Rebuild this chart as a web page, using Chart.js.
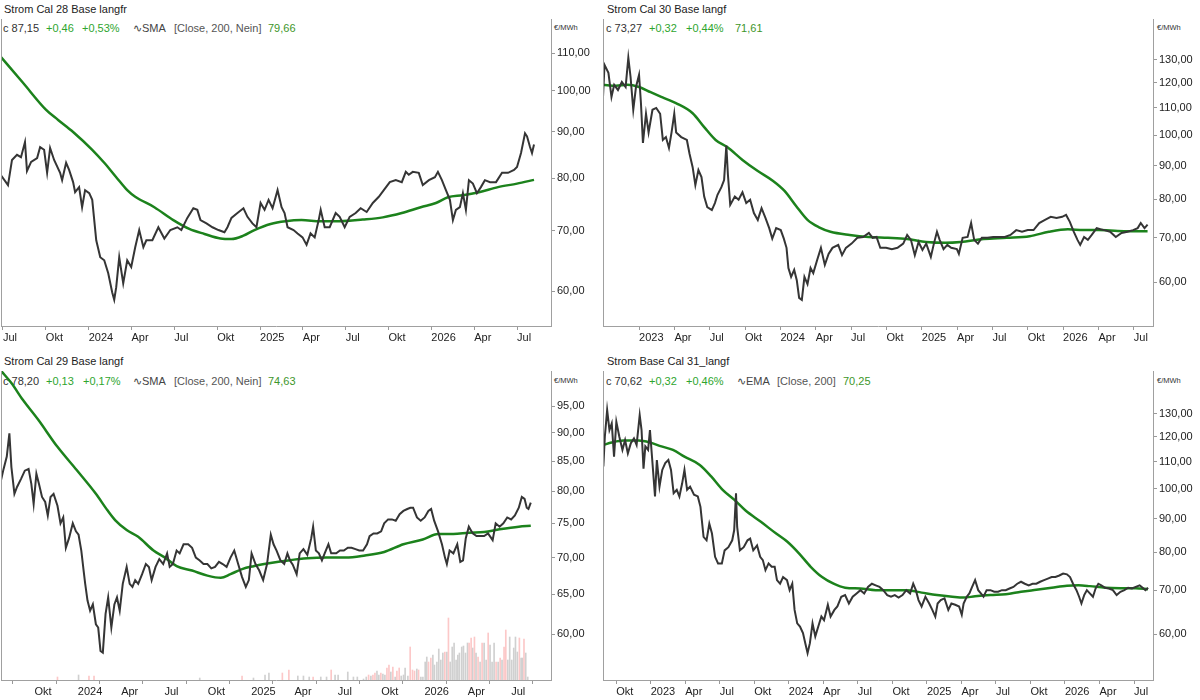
<!DOCTYPE html>
<html>
<head>
<meta charset="utf-8">
<script src="https://cdn.jsdelivr.net/npm/chart.js@4.4.1/dist/chart.umd.min.js"></script>
<style>
html, body { margin: 0; padding: 0; background: #fff; }
body { width: 1200px; height: 700px; position: relative; overflow: hidden;
  font-family: "Liberation Sans", Arial, sans-serif; font-size: 11px; color: #222; }
.t { position: absolute; white-space: nowrap; line-height: 14px; height: 14px; }
.unit { position: absolute; font-size: 7.5px; line-height: 10px; color: #333; }
.n { color: #333; } .g { color: #2ea52e; } .v { color: #3d962a; } .p { color: #555; } .i { color: #444; }
canvas { position: absolute; }
</style>
</head>
<body>
<!-- top left -->
<div class="t" style="left:4px;top:2px">Strom Cal 28 Base langfr</div>
<div class="t n" style="left:3px;top:21px">c 87,15</div>
<div class="t g" style="left:46px;top:21px">+0,46</div>
<div class="t g" style="left:82px;top:21px">+0,53%</div>
<div class="t i" style="left:133px;top:21px">∿SMA</div>
<div class="t p" style="left:174px;top:21px">[Close, 200, Nein]</div>
<div class="t v" style="left:268px;top:21px">79,66</div>
<div class="unit" style="left:554px;top:23px">€/MWh</div>
<canvas id="cal28" width="598" height="327" style="left:1px;top:19px"></canvas>

<!-- top right -->
<div class="t" style="left:607px;top:2px">Strom Cal 30 Base langf</div>
<div class="t n" style="left:606px;top:21px">c 73,27</div>
<div class="t g" style="left:649px;top:21px">+0,32</div>
<div class="t g" style="left:686px;top:21px">+0,44%</div>
<div class="t v" style="left:735px;top:21px">71,61</div>
<div class="unit" style="left:1157px;top:23px">€/MWh</div>
<canvas id="cal30" width="597" height="327" style="left:603px;top:19px"></canvas>

<!-- bottom left -->
<div class="t" style="left:4px;top:354px">Strom Cal 29 Base langf</div>
<div class="t n" style="left:3px;top:374px">c 78,20</div>
<div class="t g" style="left:46px;top:374px">+0,13</div>
<div class="t g" style="left:83px;top:374px">+0,17%</div>
<div class="t i" style="left:133px;top:374px">∿SMA</div>
<div class="t p" style="left:174px;top:374px">[Close, 200, Nein]</div>
<div class="t v" style="left:268px;top:374px">74,63</div>
<div class="unit" style="left:554px;top:376px">€/MWh</div>
<canvas id="cal29" width="598" height="329" style="left:1px;top:371px"></canvas>

<!-- bottom right -->
<div class="t" style="left:607px;top:354px">Strom Base Cal 31_langf</div>
<div class="t n" style="left:606px;top:374px">c 70,62</div>
<div class="t g" style="left:649px;top:374px">+0,32</div>
<div class="t g" style="left:686px;top:374px">+0,46%</div>
<div class="t i" style="left:737px;top:374px">∿EMA</div>
<div class="t p" style="left:777px;top:374px">[Close, 200]</div>
<div class="t v" style="left:843px;top:374px">70,25</div>
<div class="unit" style="left:1157px;top:376px">€/MWh</div>
<canvas id="cal31" width="597" height="329" style="left:603px;top:371px"></canvas>

<script>
// time values are months counted from Jan 2023 (0 = Jan 2023, 12 = Jan 2024 ...)

// Strom Cal 28 Base
const cal28Months = [5.86, 6.35, 6.63, 6.98, 7.26, 7.54, 7.68, 7.97, 8.39, 8.6,
  8.88, 9.09, 9.3, 9.58, 10.0, 10.14, 10.42, 10.63, 10.91, 11.05,
  11.33, 11.54, 11.75, 12.04, 12.25, 12.53, 12.81, 13.09, 13.37, 13.65,
  13.79, 13.93, 14.14, 14.42, 14.7, 14.98, 15.26, 15.54, 15.83, 16.04,
  16.46, 16.88, 17.3, 17.72, 18.21, 18.49, 18.91, 19.33, 19.61, 19.83,
  20.25, 20.67, 21.09, 21.51, 21.72, 22.0, 22.42, 22.84, 23.12, 23.47,
  23.75, 24.04, 24.32, 24.6, 24.88, 25.23, 25.51, 25.72, 25.93, 26.35,
  26.63, 26.98, 27.26, 27.54, 27.83, 28.11, 28.25, 28.53, 28.88, 29.3,
  29.58, 29.93, 30.28, 30.7, 31.05, 31.47, 31.9, 32.32, 32.67, 33.09,
  33.51, 33.93, 34.21, 34.42, 34.7, 35.12, 35.4, 35.83, 36.25, 36.46,
  36.74, 37.02, 37.3, 37.51, 37.72, 38.0, 38.21, 38.42, 38.63, 38.91,
  39.19, 39.47, 39.75, 40.11, 40.53, 40.95, 41.37, 41.79, 42.0, 42.28,
  42.56, 42.7, 42.91, 43.05, 43.19];
const cal28Close = [80.6, 78.6, 83.8, 84.9, 84.4, 87.7, 81.5, 83.4, 84.2, 86.6,
  86.0, 81.1, 86.4, 83.8, 81.1, 79.6, 83.2, 81.7, 79.2, 77.2,
  78.2, 74.3, 77.6, 77.0, 75.7, 68.3, 65.4, 64.9, 62.8, 59.8,
  58.7, 60.6, 65.4, 61.2, 64.9, 63.8, 67.1, 70.1, 67.1, 68.3,
  68.3, 70.6, 68.6, 70.1, 70.6, 70.1, 72.3, 74.1, 73.8, 71.9,
  71.3, 70.6, 70.1, 69.7, 70.6, 72.3, 73.2, 74.1, 72.5, 71.3,
  70.6, 75.1, 73.8, 75.7, 74.1, 77.6, 74.3, 73.2, 70.6, 70.1,
  69.5, 68.8, 67.5, 69.5, 68.8, 71.9, 73.8, 70.6, 70.6, 73.2,
  72.5, 70.6, 72.5, 73.2, 74.1, 73.4, 75.1, 76.3, 77.6, 79.2,
  79.6, 79.2, 81.3, 80.7, 81.3, 81.1, 78.6, 79.6, 80.2, 81.3,
  79.6, 77.6, 75.7, 71.9, 73.8, 74.3, 77.0, 73.8, 79.6, 78.9,
  77.0, 78.2, 79.6, 79.2, 79.2, 81.1, 81.1, 81.7, 82.3, 85.3,
  89.7, 89.0, 86.6, 85.3, 87.15];
const cal28SmaMonths = [5.86, 7.4, 9.02, 9.86, 10.91, 12.25, 13.09, 13.93, 14.7, 15.26,
  16.6, 17.93, 19.05, 20.11, 21.23, 22.0, 22.84, 23.61, 24.74, 25.79,
  26.91, 28.25, 29.58, 31.19, 32.6, 33.93, 35.26, 36.32, 37.16, 38.21,
  39.33, 40.67, 42.0, 43.19];
const cal28Sma = [108.9, 102.0, 95.2, 92.8, 90.0, 86.0, 83.2, 80.2, 77.6, 76.3,
  74.3, 71.9, 70.3, 69.4, 68.6, 68.5, 69.1, 70.1, 71.2, 71.7,
  71.9, 71.7, 71.7, 72.0, 72.4, 73.2, 74.3, 75.1, 76.2, 76.6,
  77.2, 78.2, 78.9, 79.66];
const cal28Ticks = [60, 70, 80, 90, 100, 110];

// Strom Cal 30 Base
const cal30Months = [-3.06, -2.93, -2.6, -2.34, -2.11, -1.79, -1.46, -1.14, -0.91, -0.72,
  -0.49, -0.26, 0, 0.16, 0.33, 0.59, 0.81, 1.14, 1.46, 1.79,
  2.02, 2.28, 2.54, 2.76, 2.99, 3.15, 3.58, 4.06, 4.29, 4.55,
  4.78, 5.04, 5.3, 5.53, 5.79, 6.18, 6.44, 6.66, 6.99, 7.22,
  7.41, 7.54, 7.74, 8.13, 8.45, 8.78, 9.1, 9.43, 9.75, 10.08,
  10.4, 10.73, 11.05, 11.31, 11.64, 12.03, 12.29, 12.52, 12.68, 12.91,
  13.17, 13.39, 13.59, 13.82, 14.04, 14.3, 14.56, 14.79, 15.12, 15.44,
  15.77, 16.09, 16.42, 16.91, 17.23, 17.56, 18.04, 18.53, 19.02, 19.51,
  19.83, 20.16, 20.48, 20.97, 21.46, 21.94, 22.43, 22.76, 23.08, 23.41,
  23.73, 24.06, 24.38, 24.77, 25.03, 25.29, 25.52, 25.85, 26.17, 26.5,
  26.98, 27.15, 27.47, 27.89, 28.19, 28.45, 28.77, 29.1, 29.58, 30.07,
  30.56, 31.05, 31.53, 32.02, 32.51, 33.0, 33.49, 33.97, 34.46, 34.95,
  35.44, 35.92, 36.25, 36.57, 36.9, 37.22, 37.45, 37.78, 38.1, 38.43,
  38.85, 39.17, 39.5, 39.99, 40.47, 40.96, 41.45, 41.94, 42.33, 42.59,
  42.91, 43.17];
const cal30Close = [114.3, 127.8, 124.3, 114.3, 119.2, 117.1, 120.4, 118.3, 131.0, 122.5,
  109.3, 118.3, 123.4, 112.0, 97.4, 107.8, 101.0, 109.3, 110.0, 107.8,
  98.4, 99.4, 95.7, 101.0, 107.8, 101.0, 99.4, 98.4, 93.7, 89.5,
  84.1, 88.6, 86.5, 80.8, 77.9, 77.1, 79.0, 81.3, 83.5, 85.6,
  96.5, 87.4, 78.5, 80.8, 79.9, 82.0, 79.0, 79.9, 76.3, 74.5,
  77.6, 75.0, 72.4, 69.8, 72.4, 71.9, 69.8, 67.6, 63.0, 61.1,
  62.6, 60.4, 56.8, 56.4, 61.1, 59.6, 63.0, 61.9, 64.8, 67.6,
  63.7, 66.2, 67.6, 68.3, 65.9, 67.6, 68.6, 70.0, 70.2, 71.2,
  70.0, 70.2, 67.6, 67.6, 67.3, 67.6, 68.6, 70.7, 69.5, 65.9,
  69.0, 67.1, 68.6, 65.5, 68.6, 71.5, 69.5, 67.3, 68.3, 67.6,
  67.3, 66.2, 70.0, 70.2, 73.7, 69.5, 68.6, 70.0, 70.0, 70.2,
  70.2, 70.2, 70.7, 71.9, 71.5, 71.9, 71.9, 73.7, 74.5, 75.3,
  75.0, 75.3, 75.8, 74.0, 71.5, 69.5, 68.3, 70.2, 69.5, 70.7,
  72.4, 72.1, 71.9, 71.5, 70.2, 71.2, 71.5, 71.9, 72.4, 73.7,
  72.4, 73.27];
const cal30SmaMonths = [-3.06, -1.95, -0.98, 0, 0.98, 1.95, 3.25, 4.55, 5.53, 6.5,
  7.48, 8.78, 10.08, 11.38, 12.35, 13.33, 14.3, 15.28, 16.25, 17.88,
  19.51, 21.13, 22.76, 24.38, 26.01, 27.31, 29.26, 31.21, 33.16, 34.79,
  36.41, 37.71, 39.01, 40.64, 42.26, 43.17];
const cal30Sma = [119.2, 118.8, 119.2, 118.3, 116.2, 114.2, 111.6, 108.0, 102.9, 98.4,
  96.0, 91.8, 88.3, 85.3, 82.4, 78.2, 74.5, 72.6, 71.5, 70.7,
  70.2, 70.0, 69.7, 69.0, 68.8, 69.0, 69.7, 70.0, 70.4, 71.5,
  72.1, 71.9, 71.9, 71.7, 71.6, 71.61];
const cal30Ticks = [60, 70, 80, 90, 100, 110, 120, 130];

// Strom Cal 29 Base
const cal29Months = [6.68, 6.86, 7.08, 7.26, 7.4, 7.61, 7.79, 8.06, 8.33, 8.59,
  8.78, 8.94, 9.13, 9.31, 9.52, 9.74, 9.92, 10.11, 10.32, 10.59,
  10.8, 10.99, 11.17, 11.39, 11.65, 11.87, 12.05, 12.24, 12.4, 12.51,
  12.67, 12.85, 13.04, 13.25, 13.41, 13.57, 13.73, 13.92, 14.1, 14.32,
  14.53, 14.71, 14.9, 15.11, 15.38, 15.59, 15.78, 15.97, 16.18, 16.45,
  16.71, 16.92, 17.11, 17.38, 17.64, 17.91, 18.18, 18.36, 18.58, 18.84,
  19.05, 19.32, 19.64, 19.91, 20.17, 20.44, 20.7, 20.97, 21.24, 21.5,
  21.77, 22.03, 22.3, 22.57, 22.83, 23.1, 23.37, 23.63, 23.84, 24.03,
  24.3, 24.56, 24.83, 25.1, 25.36, 25.55, 25.76, 26.03, 26.29, 26.51,
  26.69, 26.88, 27.15, 27.36, 27.62, 27.89, 28.16, 28.29, 28.48, 28.69,
  28.9, 29.09, 29.35, 29.54, 29.89, 30.15, 30.42, 30.69, 30.95, 31.22,
  31.48, 31.75, 32.02, 32.2, 32.47, 32.73, 33.0, 33.21, 33.48, 33.75,
  34.01, 34.28, 34.54, 34.81, 35.02, 35.21, 35.48, 35.74, 36.01, 36.27,
  36.46, 36.67, 36.94, 37.21, 37.42, 37.55, 37.74, 38.0, 38.27, 38.48,
  38.67, 38.86, 39.07, 39.34, 39.6, 39.87, 40.13, 40.4, 40.72, 40.93,
  41.2, 41.46, 41.73, 42.0, 42.26, 42.53, 42.74, 42.93, 43.08, 43.2,
  43.36];
const cal29Close = [81.8, 83.7, 85.8, 89.9, 84.0, 79.6, 80.7, 82.0, 83.4, 83.7,
  81.2, 78.0, 82.9, 81.2, 79.1, 78.3, 76.2, 79.1, 79.6, 77.7,
  75.0, 75.9, 71.4, 72.8, 75.0, 73.8, 73.3, 71.0, 68.2, 66.4,
  64.2, 62.9, 63.7, 61.2, 60.8, 58.0, 57.8, 62.5, 64.6, 60.8,
  63.7, 64.6, 62.9, 66.4, 68.7, 66.4, 66.0, 66.9, 66.4, 67.7,
  69.1, 68.7, 66.9, 68.7, 69.8, 69.1, 70.6, 68.7, 69.1, 71.0,
  70.6, 71.9, 71.9, 71.4, 70.0, 69.6, 69.1, 69.1, 68.5, 68.7,
  69.4, 69.1, 68.7, 70.0, 71.0, 69.1, 67.3, 66.0, 66.9, 70.6,
  69.1, 68.2, 66.9, 69.1, 73.3, 71.9, 71.0, 69.6, 69.1, 70.6,
  69.6, 69.0, 67.7, 70.6, 71.2, 70.4, 72.8, 74.5, 71.0, 70.6,
  69.6, 70.6, 71.9, 70.6, 70.6, 71.0, 71.0, 71.4, 71.4, 71.2,
  71.0, 71.0, 71.9, 73.1, 73.5, 73.5, 73.8, 75.0, 75.6, 75.6,
  75.4, 76.4, 76.9, 77.2, 77.4, 77.4, 75.9, 75.4, 75.9, 76.9,
  77.2, 75.4, 73.8, 71.9, 70.0, 69.1, 71.0, 70.6, 71.9, 69.4,
  69.6, 72.8, 74.5, 73.5, 73.1, 73.1, 73.1, 73.5, 72.5, 75.0,
  74.5, 75.0, 75.9, 75.6, 76.2, 77.4, 79.1, 78.8, 77.4, 77.2,
  78.2];
const cal29SmaMonths = [6.68, 7.4, 8.19, 9.26, 10.59, 11.92, 13.25, 14.05, 14.58, 15.38,
  16.18, 17.24, 18.04, 18.84, 19.91, 20.97, 21.9, 22.57, 23.37, 24.16,
  25.23, 26.56, 27.89, 29.22, 30.55, 31.88, 33.21, 34.54, 35.88, 36.94,
  38.0, 39.07, 40.13, 41.2, 42.53, 43.36];
const cal29Sma = [102.0, 99.5, 96.2, 92.4, 87.5, 83.5, 79.6, 77.0, 75.5, 74.0,
  73.0, 71.0, 70.0, 68.8, 68.2, 67.5, 67.2, 67.7, 68.4, 68.8,
  69.2, 69.6, 69.9, 70.0, 70.0, 70.3, 70.8, 71.9, 72.6, 73.4,
  73.4, 73.6, 73.7, 74.1, 74.5, 74.63];
const cal29Ticks = [60, 65, 70, 75, 80, 85, 90, 95];
// volume (relative units), 1 = day closed lower
const cal29VolMonths = [10.59, 12.05, 12.77, 13.12, 20.44, 23.37, 24.16, 24.96, 25.23, 26.16,
  26.61, 27.23, 27.62, 28.02, 28.29, 28.82, 29.22, 29.54, 29.81, 30.02,
  30.69, 31.08, 31.35, 31.78, 31.97, 32.13, 32.29, 32.43, 32.57, 32.71,
  32.84, 32.98, 33.12, 33.26, 33.4, 33.54, 33.67, 33.81, 33.97, 34.09,
  34.25, 34.39, 34.55, 34.66, 34.85, 35.01, 35.17, 35.31, 35.47, 35.59,
  35.75, 35.89, 36.05, 36.16, 36.28, 36.44, 36.58, 36.69, 36.86, 36.99,
  37.13, 37.27, 37.41, 37.55, 37.66, 37.78, 37.92, 38.05, 38.19, 38.31,
  38.42, 38.58, 38.7, 38.84, 38.98, 39.09, 39.23, 39.34, 39.46, 39.57,
  39.71, 39.85, 39.99, 40.13, 40.27, 40.41, 40.54, 40.68, 40.82, 40.96,
  41.1, 41.24, 41.37, 41.51, 41.63, 41.77, 41.9, 42.04, 42.18, 42.3,
  42.43, 42.57, 42.69, 42.78, 42.89, 43.01, 43.15];
const cal29Volume = [3, 5, 4, 4, 2, 4, 2, 5, 7, 7,
  10, 4, 4, 3, 3, 3, 3, 10, 5, 5,
  8, 3, 3, 1, 3, 5, 4, 5, 7, 9,
  5, 7, 6, 5, 12, 15, 8, 13, 3, 9,
  12, 4, 5, 12, 4, 33, 10, 9, 11, 10,
  3, 3, 18, 23, 18, 22, 25, 15, 18, 31,
  20, 27, 28, 28, 62, 18, 33, 37, 20, 25,
  27, 33, 34, 27, 37, 37, 42, 32, 43, 27,
  23, 18, 37, 37, 20, 47, 35, 18, 37, 18,
  18, 22, 20, 33, 50, 20, 43, 20, 32, 43,
  28, 42, 22, 22, 41, 27, 3];
const cal29VolDown = [1, 0, 1, 1, 0, 1, 0, 0, 0, 1,
  1, 0, 0, 0, 1, 0, 0, 1, 0, 0,
  0, 0, 0, 0, 0, 1, 0, 1, 1, 0,
  0, 1, 0, 0, 1, 1, 0, 1, 0, 1,
  1, 0, 0, 0, 0, 1, 1, 1, 0, 1,
  0, 0, 0, 0, 1, 1, 0, 0, 0, 0,
  0, 0, 1, 0, 1, 0, 0, 0, 0, 0,
  0, 0, 0, 0, 0, 1, 1, 0, 1, 0,
  1, 0, 1, 0, 0, 1, 0, 0, 0, 1,
  0, 1, 0, 1, 1, 0, 0, 0, 0, 0,
  0, 1, 0, 0, 1, 0, 0];

// Strom Base Cal 31
const cal31Months = [-4.12, -3.99, -3.79, -3.59, -3.39, -3.19, -2.99, -2.73, -2.46, -2.23,
  -1.99, -1.73, -1.46, -1.23, -0.96, -0.8, -0.63, -0.47, -0.23, -0.07,
  0.13, 0.37, 0.53, 0.76, 1.0, 1.26, 1.53, 1.76, 1.99, 2.26,
  2.49, 2.73, 2.93, 3.16, 3.42, 3.76, 4.09, 4.32, 4.59, 4.85,
  5.09, 5.32, 5.59, 5.85, 6.18, 6.42, 6.75, 7.08, 7.25, 7.41,
  7.51, 7.75, 8.08, 8.41, 8.64, 8.91, 9.24, 9.51, 9.74, 9.97,
  10.24, 10.51, 10.77, 10.97, 11.24, 11.5, 11.84, 12.07, 12.3, 12.5,
  12.73, 12.97, 13.23, 13.43, 13.63, 13.83, 14.06, 14.3, 14.56, 14.83,
  15.06, 15.39, 15.63, 15.96, 16.22, 16.56, 16.89, 17.22, 17.55, 17.89,
  18.22, 18.55, 18.88, 19.22, 19.55, 19.88, 20.21, 20.55, 20.88, 21.21,
  21.54, 21.88, 22.21, 22.54, 22.81, 23.04, 23.27, 23.54, 23.87, 24.2,
  24.47, 24.73, 24.93, 25.2, 25.53, 25.86, 26.13, 26.46, 26.8, 27.03,
  27.19, 27.46, 27.69, 27.93, 28.19, 28.46, 28.69, 28.92, 29.19, 29.52,
  29.85, 30.19, 30.52, 30.85, 31.18, 31.52, 31.85, 32.18, 32.51, 32.85,
  33.18, 33.51, 33.84, 34.18, 34.51, 34.84, 35.17, 35.51, 35.84, 36.17,
  36.44, 36.7, 37.0, 37.23, 37.43, 37.67, 37.9, 38.16, 38.43, 38.66,
  38.9, 39.16, 39.49, 39.83, 40.16, 40.49, 40.82, 41.16, 41.49, 41.82,
  42.15, 42.49, 42.75, 42.99, 43.22];
const cal31Close = [108.1, 120.0, 131.8, 122.9, 125.8, 111.9, 126.5, 120.0, 114.6, 118.6,
  113.2, 117.3, 119.3, 116.6, 129.5, 122.9, 107.3, 116.0, 114.6, 122.9,
  110.6, 97.3, 110.6, 100.7, 106.8, 109.4, 110.6, 106.8, 98.4, 99.6,
  97.3, 101.9, 106.8, 99.6, 100.7, 97.9, 97.3, 93.8, 84.4, 83.4,
  88.4, 85.4, 78.7, 76.9, 76.9, 80.5, 81.4, 83.4, 86.4, 98.4,
  87.4, 80.5, 81.4, 83.4, 83.9, 80.5, 81.9, 78.7, 77.8, 75.1,
  76.9, 76.0, 76.0, 72.5, 71.6, 73.3, 72.5, 70.0, 71.6, 65.3,
  62.3, 61.6, 60.2, 58.1, 56.1, 58.1, 62.3, 59.5, 61.6, 63.8,
  63.0, 66.5, 63.8, 65.3, 66.1, 68.4, 68.8, 66.8, 68.4, 69.2,
  70.0, 69.2, 70.8, 71.6, 71.2, 70.8, 70.0, 68.8, 68.4, 68.8,
  68.2, 68.8, 70.0, 69.2, 71.6, 70.0, 67.6, 66.1, 68.4, 66.8,
  65.3, 63.8, 66.8, 67.6, 68.0, 65.3, 66.8, 66.5, 66.1, 64.2,
  66.8, 68.4, 69.2, 70.8, 72.5, 70.0, 69.2, 68.4, 70.0, 70.0,
  69.6, 69.6, 70.0, 70.0, 70.4, 70.8, 71.6, 72.1, 71.6, 71.2,
  71.6, 71.6, 72.1, 72.5, 72.9, 73.3, 73.3, 73.7, 74.2, 74.0,
  73.3, 71.6, 70.0, 68.4, 66.8, 68.8, 70.0, 69.2, 68.4, 70.4,
  71.6, 71.2, 70.6, 70.4, 70.0, 68.8, 69.6, 70.0, 70.6, 70.4,
  70.8, 71.2, 70.6, 70.0, 70.62];
const cal31EmaMonths = [-4.12, -3.39, -2.39, -1.06, -0.07, 0.93, 1.93, 2.93, 4.26, 5.25,
  6.25, 7.25, 8.24, 9.57, 10.9, 11.9, 12.9, 13.9, 14.89, 15.89,
  16.89, 18.22, 19.55, 20.88, 22.21, 23.54, 24.87, 26.2, 27.19, 28.19,
  29.52, 30.85, 32.18, 33.51, 34.84, 36.17, 37.17, 38.16, 39.49, 40.82,
  42.15, 43.22];
const cal31Ema = [116.6, 117.6, 118.4, 118.4, 117.6, 116.0, 114.6, 111.9, 108.7, 104.4,
  99.6, 96.2, 92.6, 89.0, 85.4, 82.9, 79.6, 76.0, 73.3, 71.6,
  70.6, 70.4, 70.0, 70.0, 70.0, 69.4, 68.8, 68.4, 68.2, 68.5,
  68.8, 69.0, 69.6, 70.1, 70.6, 71.1, 71.2, 71.0, 70.6, 70.5,
  70.5, 70.25];
const cal31Ticks = [60, 70, 80, 90, 100, 110, 120, 130];

Chart.defaults.font.family = '"Liberation Sans", Arial, sans-serif';
Chart.defaults.font.size = 11;
Chart.defaults.color = '#222';

function monthLabel(m) {
  const k = ((m % 12) + 12) % 12;
  if (k === 0) return String(2023 + Math.round(m / 12));
  return {3: 'Apr', 6: 'Jul', 9: 'Okt'}[k];
}

function fmt(v) {
  return v.toFixed(2).replace('.', ',');
}

function pairs(xs, ys) {
  return xs.map((x, i) => ({x: x, y: ys[i]}));
}

const leftBorder = {
  id: 'leftBorder',
  afterDraw(chart) {
    const a = chart.chartArea, ctx = chart.ctx;
    ctx.save();
    ctx.strokeStyle = '#a0a0a0';
    ctx.lineWidth = 1;
    ctx.beginPath();
    ctx.moveTo(a.left + 0.5, a.top);
    ctx.lineTo(a.left + 0.5, a.bottom);
    ctx.stroke();
    ctx.restore();
  }
};

function drawPanel(id, p) {
  const datasets = [
    {data: pairs(p.months, p.close), borderColor: '#353535', borderWidth: 2,
      pointRadius: 0, tension: 0, yAxisID: 'y', order: 0},
    {data: pairs(p.maMonths, p.ma), borderColor: '#1c821c', borderWidth: 2.5,
      pointRadius: 0, cubicInterpolationMode: 'monotone', yAxisID: 'y', order: 1}
  ];
  if (p.volMonths) {
    datasets.push({type: 'bar', data: pairs(p.volMonths, p.vol),
      backgroundColor: p.volDown.map(d => d ? '#fcc8c8' : '#d0d0d0'),
      barThickness: 1, yAxisID: 'yVol', order: 2});
  }

  new Chart(document.getElementById(id), {
    type: 'line',
    data: {datasets: datasets},
    options: {
      responsive: false,
      animation: false,
      layout: {padding: 0},
      plugins: {legend: {display: false}, tooltip: {enabled: false}},
      scales: {
        x: {
          type: 'linear', min: p.xMin, max: p.xMax, offset: false,
          afterBuildTicks: s => {
            const list = [];
            for (let m = Math.ceil(p.xMin); m <= p.xMax; m++) {
              if (((m % 3) + 3) % 3 === 0 && m > p.xMin + 0.1) list.push({value: m});
            }
            s.ticks = list;
          },
          afterFit: s => { s.height = 20; s.paddingLeft = 0; s.paddingRight = 0; },
          grid: {drawOnChartArea: false, tickLength: 4, color: '#999'},
          border: {color: '#a0a0a0'},
          ticks: {align: 'start', autoSkip: false, maxRotation: 0, padding: 1,
            color: '#222', callback: v => monthLabel(v)}
        },
        y: {
          type: 'logarithmic', position: 'right', min: p.yMin, max: p.yMax,
          afterBuildTicks: s => { s.ticks = p.yTicks.map(v => ({value: v})); },
          afterFit: s => { s.width = p.axisW; s.paddingTop = 0; s.paddingBottom = 0; },
          grid: {drawOnChartArea: false, tickLength: 4, color: '#999'},
          border: {color: '#a0a0a0'},
          ticks: {autoSkip: false, padding: 2, color: '#222', callback: v => fmt(v)}
        },
        yVol: {type: 'linear', display: false, min: 0, max: 309}
      }
    },
    plugins: [leftBorder]
  });
}

drawPanel('cal28', {months: cal28Months, close: cal28Close, maMonths: cal28SmaMonths, ma: cal28Sma,
  yTicks: cal28Ticks, xMin: 5.86, xMax: 44.38, yMin: 54.9, yMax: 120, axisW: 48});
drawPanel('cal30', {months: cal30Months, close: cal30Close, maMonths: cal30SmaMonths, ma: cal30Sma,
  yTicks: cal30Ticks, xMin: -3.06, xMax: 43.63, yMin: 51.5, yMax: 149.9, axisW: 47});
drawPanel('cal29', {months: cal29Months, close: cal29Close, maMonths: cal29SmaMonths, ma: cal29Sma,
  volMonths: cal29VolMonths, vol: cal29Volume, volDown: cal29VolDown,
  yTicks: cal29Ticks, xMin: 6.68, xMax: 44.76, yMin: 54.7, yMax: 101.95, axisW: 48});
drawPanel('cal31', {months: cal31Months, close: cal31Close, maMonths: cal31EmaMonths, ma: cal31Ema,
  yTicks: cal31Ticks, xMin: -4.15, xMax: 43.65, yMin: 51.05, yMax: 151.2, axisW: 47});
</script>
</body>
</html>
